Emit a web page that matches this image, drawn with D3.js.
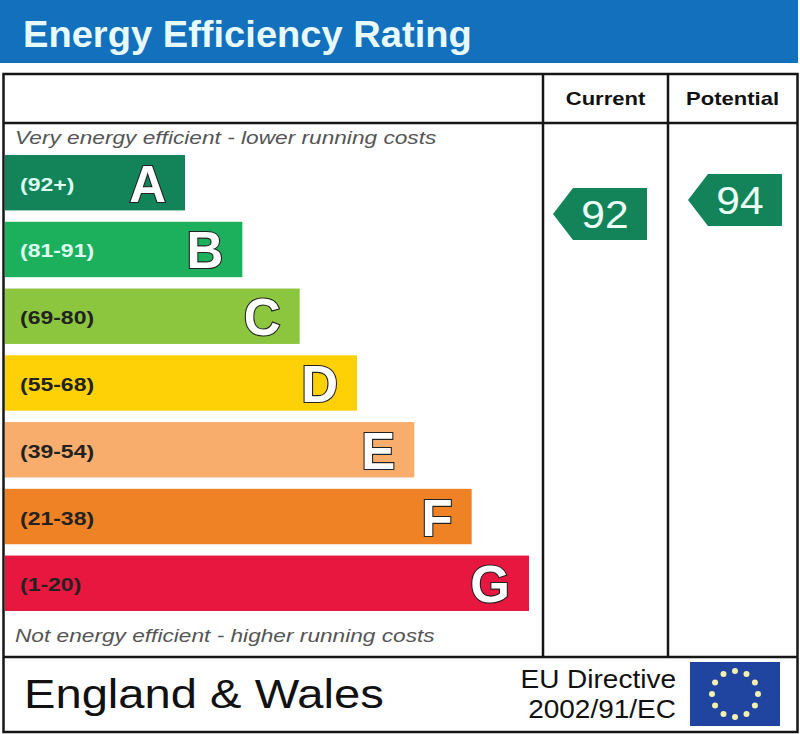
<!DOCTYPE html>
<html lang="en">
<head>
<meta charset="utf-8">
<title>Energy Efficiency Rating</title>
<script src="https://cdn.jsdelivr.net/npm/d3@7/dist/d3.min.js"></script>
<style>
  body { margin: 0; background: #fff; }
  text { font-family: "Liberation Sans", Arial, sans-serif; }
</style>
</head>
<body>
<script>
// rating bands, top (best) to bottom (worst)
var bands = ["A", "B", "C", "D", "E", "F", "G"];
var ranges = ["(92+)", "(81-91)", "(69-80)", "(55-68)", "(39-54)", "(21-38)", "(1-20)"];
var bandColors = ["#138459", "#1db05c", "#8cc63f", "#fed106", "#f8ad6d", "#f08226", "#e8173f"];
var bandLower = [92, 81, 69, 55, 39, 21, 1];
var columns = ["Current", "Potential"];
var scores = [92, 94];

var width = 800, height = 734;

var svg = d3.select("body").append("svg")
    .attr("width", width)
    .attr("height", height);

// the original artwork is a little wider than the font, so stretch text horizontally
function label(parent, x, y, sx, txt) {
  return parent.append("text")
      .attr("transform", "translate(" + x + "," + y + ") scale(" + sx + ",1)")
      .text(txt);
}

// title band
svg.append("rect").attr("x", 0).attr("y", 0).attr("width", 798).attr("height", 63).attr("fill", "#1270bd");
label(svg, 23, 47, 1.03, "Energy Efficiency Rating")
    .attr("font-size", 37).attr("font-weight", "bold")
    .attr("fill", "#e6faff");

// scales
var y = d3.scaleBand().domain(bands).range([155, 611]).paddingInner(0.17).paddingOuter(0);
var barEnd = d3.scaleLinear().domain([0, bands.length - 1]).range([185, 529]);
var color = d3.scaleOrdinal().domain(bands).range(bandColors);
// score -> arrow centre (7px per point)
var scoreY = d3.scaleLinear().domain([92, 94]).range([214, 200]);
var colX = d3.scaleBand().domain(columns).range([543, 793]);
var arrowInset = [10, 20];

// bars
var g = svg.selectAll("g.band").data(bands).enter().append("g").attr("class", "band");

g.append("rect")
    .attr("x", 5)
    .attr("y", function(d){ return y(d); })
    .attr("width", function(d, i){ return barEnd(i) - 5; })
    .attr("height", y.bandwidth())
    .attr("fill", function(d){ return color(d); });

g.each(function(d, i){
  label(d3.select(this), 20, y(d) + y.bandwidth() / 2 + 8, 1.21, ranges[i])
      .attr("font-size", 19).attr("font-weight", "bold")
      .attr("fill", i < 2 ? "#dcfff2" : "#222");
});

g.append("text")
    .attr("x", function(d, i){ return barEnd(i) - 19; })
    .attr("y", function(d){ return y(d) + y.bandwidth() / 2 + 19; })
    .attr("text-anchor", "end")
    .attr("font-size", 51).attr("font-weight", "bold")
    .attr("fill", "#fff").attr("stroke", "#222").attr("stroke-width", 2.2)
    .attr("paint-order", "stroke")
    .text(function(d){ return d; });

// italic captions
label(svg, 15, 144, 1.26, "Very energy efficient - lower running costs")
    .attr("font-size", 18).attr("font-style", "italic").attr("fill", "#555");
label(svg, 15, 642, 1.26, "Not energy efficient - higher running costs")
    .attr("font-size", 18).attr("font-style", "italic").attr("fill", "#555");

// frame and grid
var line = "#161616";
svg.append("rect").attr("x", 3.5).attr("y", 74).attr("width", 794).attr("height", 658)
    .attr("fill", "none").attr("stroke", line).attr("stroke-width", 2.5);
svg.append("line").attr("x1", 3.5).attr("x2", 797.5).attr("y1", 123).attr("y2", 123)
    .attr("stroke", line).attr("stroke-width", 2.5);
svg.append("line").attr("x1", 3.5).attr("x2", 797.5).attr("y1", 657).attr("y2", 657)
    .attr("stroke", line).attr("stroke-width", 2.5);
columns.forEach(function(c, i){
  svg.append("line").attr("x1", colX(c)).attr("x2", colX(c)).attr("y1", 74).attr("y2", 657)
      .attr("stroke", line).attr("stroke-width", 2.5);
  var cx = i === 0 ? colX(c) + colX.bandwidth() / 2 : (colX(c) + 797) / 2;
  label(svg, cx, 105, 1.16, c)
      .attr("text-anchor", "middle")
      .attr("font-size", 19).attr("font-weight", "bold").attr("fill", "#111");
});

// score arrows
function bandOf(s) {
  for (var i = 0; i < bandLower.length; i++) if (s >= bandLower[i]) return bands[i];
  return bands[bands.length - 1];
}
var arrows = svg.selectAll("g.score").data(scores).enter().append("g").attr("class", "score")
    .attr("transform", function(d, i){
      return "translate(" + (colX(columns[i]) + arrowInset[i]) + "," + scoreY(d) + ")";
    });
arrows.append("path")
    .attr("d", "M0,0 L20,-26 L94,-26 L94,26 L20,26 Z")
    .attr("fill", function(d){ return color(bandOf(d)); });
arrows.each(function(d){
  label(d3.select(this), 52, 14, 1.12, d)
      .attr("text-anchor", "middle")
      .attr("font-size", 38).attr("fill", "#eafff6");
});

// footer
label(svg, 24, 708, 1.15, "England & Wales")
    .attr("font-size", 41).attr("fill", "#111");
label(svg, 676, 688, 1.12, "EU Directive")
    .attr("text-anchor", "end").attr("font-size", 25).attr("fill", "#111");
label(svg, 676, 718, 1.12, "2002/91/EC")
    .attr("text-anchor", "end").attr("font-size", 25).attr("fill", "#111");

// EU flag
svg.append("rect").attr("x", 690).attr("y", 662).attr("width", 90).attr("height", 64).attr("fill", "#1f45a0");
var stars = d3.range(12);
svg.selectAll("circle.star").data(stars).enter().append("circle")
    .attr("class", "star")
    .attr("cx", function(d){ return 735 + 23 * Math.sin(d * Math.PI / 6); })
    .attr("cy", function(d){ return 694 - 23 * Math.cos(d * Math.PI / 6); })
    .attr("r", 3)
    .attr("fill", "#f3f1b0");
</script>
</body>
</html>
